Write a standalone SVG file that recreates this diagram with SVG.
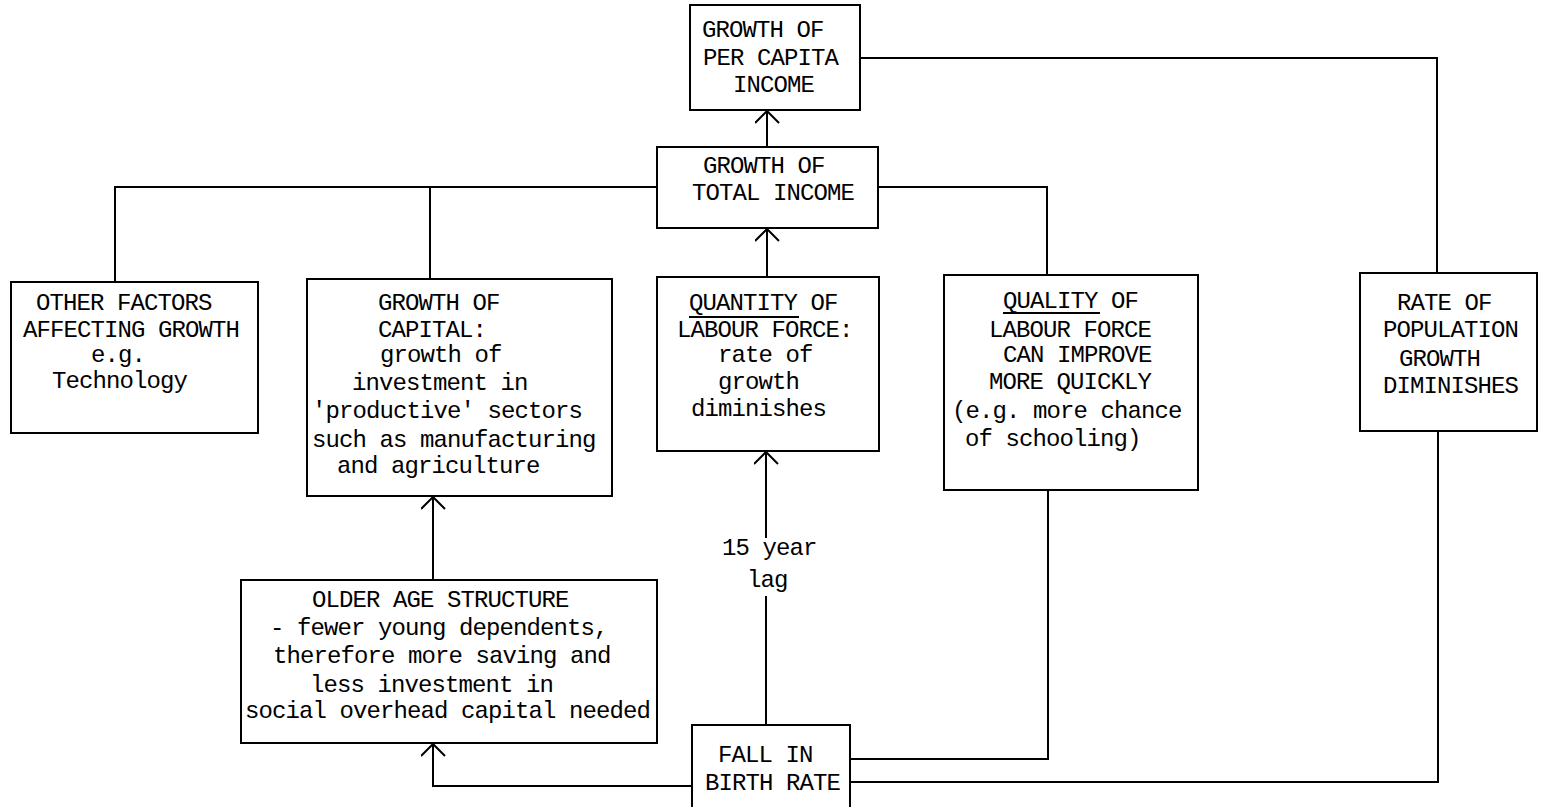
<svg xmlns="http://www.w3.org/2000/svg" width="1542" height="807" viewBox="0 0 1542 807">
<defs>
<style>
.box{fill:#fff;stroke:#000;stroke-width:2}
.ln{fill:none;stroke:#000;stroke-width:2}
text{font-family:"Liberation Mono","Courier New",monospace;font-size:24px;letter-spacing:-0.9px;fill:#000}
</style>
<marker id="ah" markerWidth="16" markerHeight="26" refX="13" refY="12" orient="auto" markerUnits="userSpaceOnUse">
<polyline points="1,0 13,12 1,24" fill="none" stroke="#000" stroke-width="2"/>
</marker>
</defs>
<rect width="1542" height="807" fill="#fff"/>
<g id="connectors">
<line class="ln" x1="767" y1="147" x2="767" y2="111" marker-end="url(#ah)"/>
<polyline class="ln" points="657,187 115,187 115,282"/>
<line class="ln" x1="430" y1="187" x2="430" y2="279"/>
<polyline class="ln" points="878,187 1047,187 1047,275"/>
<line class="ln" x1="767" y1="277" x2="767" y2="229" marker-end="url(#ah)"/>
<polyline class="ln" points="860,58 1437,58 1437,273"/>
<line class="ln" x1="433" y1="580" x2="433" y2="497" marker-end="url(#ah)"/>
<polyline class="ln" points="692,786 433,786 433,744" marker-end="url(#ah)"/>
<line class="ln" x1="766" y1="725" x2="766" y2="596"/>
<line class="ln" x1="766" y1="538" x2="766" y2="452" marker-end="url(#ah)"/>
<polyline class="ln" points="850,759 1048,759 1048,490"/>
<polyline class="ln" points="850,782 1438,782 1438,431"/>
<text x="722" y="555">15 year</text>
<text x="747" y="587">lag</text>
</g>
<g id="per-capita">
<rect class="box" x="690" y="5" width="170" height="105"/>
<text x="702" y="37">GROWTH OF</text>
<text x="703" y="65">PER CAPITA</text>
<text x="733" y="92">INCOME</text>
</g>
<g id="total-income">
<rect class="box" x="657" y="147" width="221" height="81"/>
<text x="703" y="173">GROWTH OF</text>
<text x="692" y="200">TOTAL INCOME</text>
</g>
<g id="other-factors">
<rect class="box" x="11" y="282" width="247" height="151"/>
<text x="36" y="310">OTHER FACTORS</text>
<text x="23" y="337">AFFECTING GROWTH</text>
<text x="91" y="362">e.g.</text>
<text x="52" y="388">Technology</text>
</g>
<g id="capital">
<rect class="box" x="307" y="279" width="305" height="217"/>
<text x="378" y="310">GROWTH OF</text>
<text x="378" y="337">CAPITAL:</text>
<text x="380" y="362">growth of</text>
<text x="352" y="390">investment in</text>
<text x="312" y="418">'productive' sectors</text>
<text x="312" y="447">such as manufacturing</text>
<text x="337" y="473">and agriculture</text>
</g>
<g id="quantity">
<rect class="box" x="657" y="277" width="222" height="174"/>
<text x="689" y="310">QUANTITY OF</text>
<line class="ln" x1="689" y1="317" x2="799" y2="317" stroke-width="1.5"/>
<text x="677" y="337">LABOUR FORCE:</text>
<text x="718" y="362">rate of</text>
<text x="718" y="389">growth</text>
<text x="691" y="416">diminishes</text>
</g>
<g id="quality">
<rect class="box" x="944" y="275" width="254" height="215"/>
<text x="1003" y="308">QUALITY OF</text>
<line class="ln" x1="1003" y1="313" x2="1100" y2="313" stroke-width="1.5"/>
<text x="989" y="337">LABOUR FORCE</text>
<text x="1003" y="362">CAN IMPROVE</text>
<text x="989" y="389">MORE QUICKLY</text>
<text x="952" y="418">(e.g. more chance</text>
<text x="965" y="446">of schooling)</text>
</g>
<g id="population">
<rect class="box" x="1360" y="273" width="177" height="158"/>
<text x="1397" y="310">RATE OF</text>
<text x="1383" y="337">POPULATION</text>
<text x="1399" y="366">GROWTH</text>
<text x="1383" y="393">DIMINISHES</text>
</g>
<g id="older-age">
<rect class="box" x="241" y="580" width="416" height="163"/>
<text x="312" y="607">OLDER AGE STRUCTURE</text>
<text x="270" y="635">- fewer young dependents,</text>
<text x="273" y="663">therefore more saving and</text>
<text x="310" y="692">less investment in</text>
<text x="245" y="718">social overhead capital needed</text>
</g>
<g id="birth-rate">
<rect class="box" x="692" y="725" width="158" height="90"/>
<text x="718" y="762">FALL IN</text>
<text x="705" y="790">BIRTH RATE</text>
</g>
</svg>
